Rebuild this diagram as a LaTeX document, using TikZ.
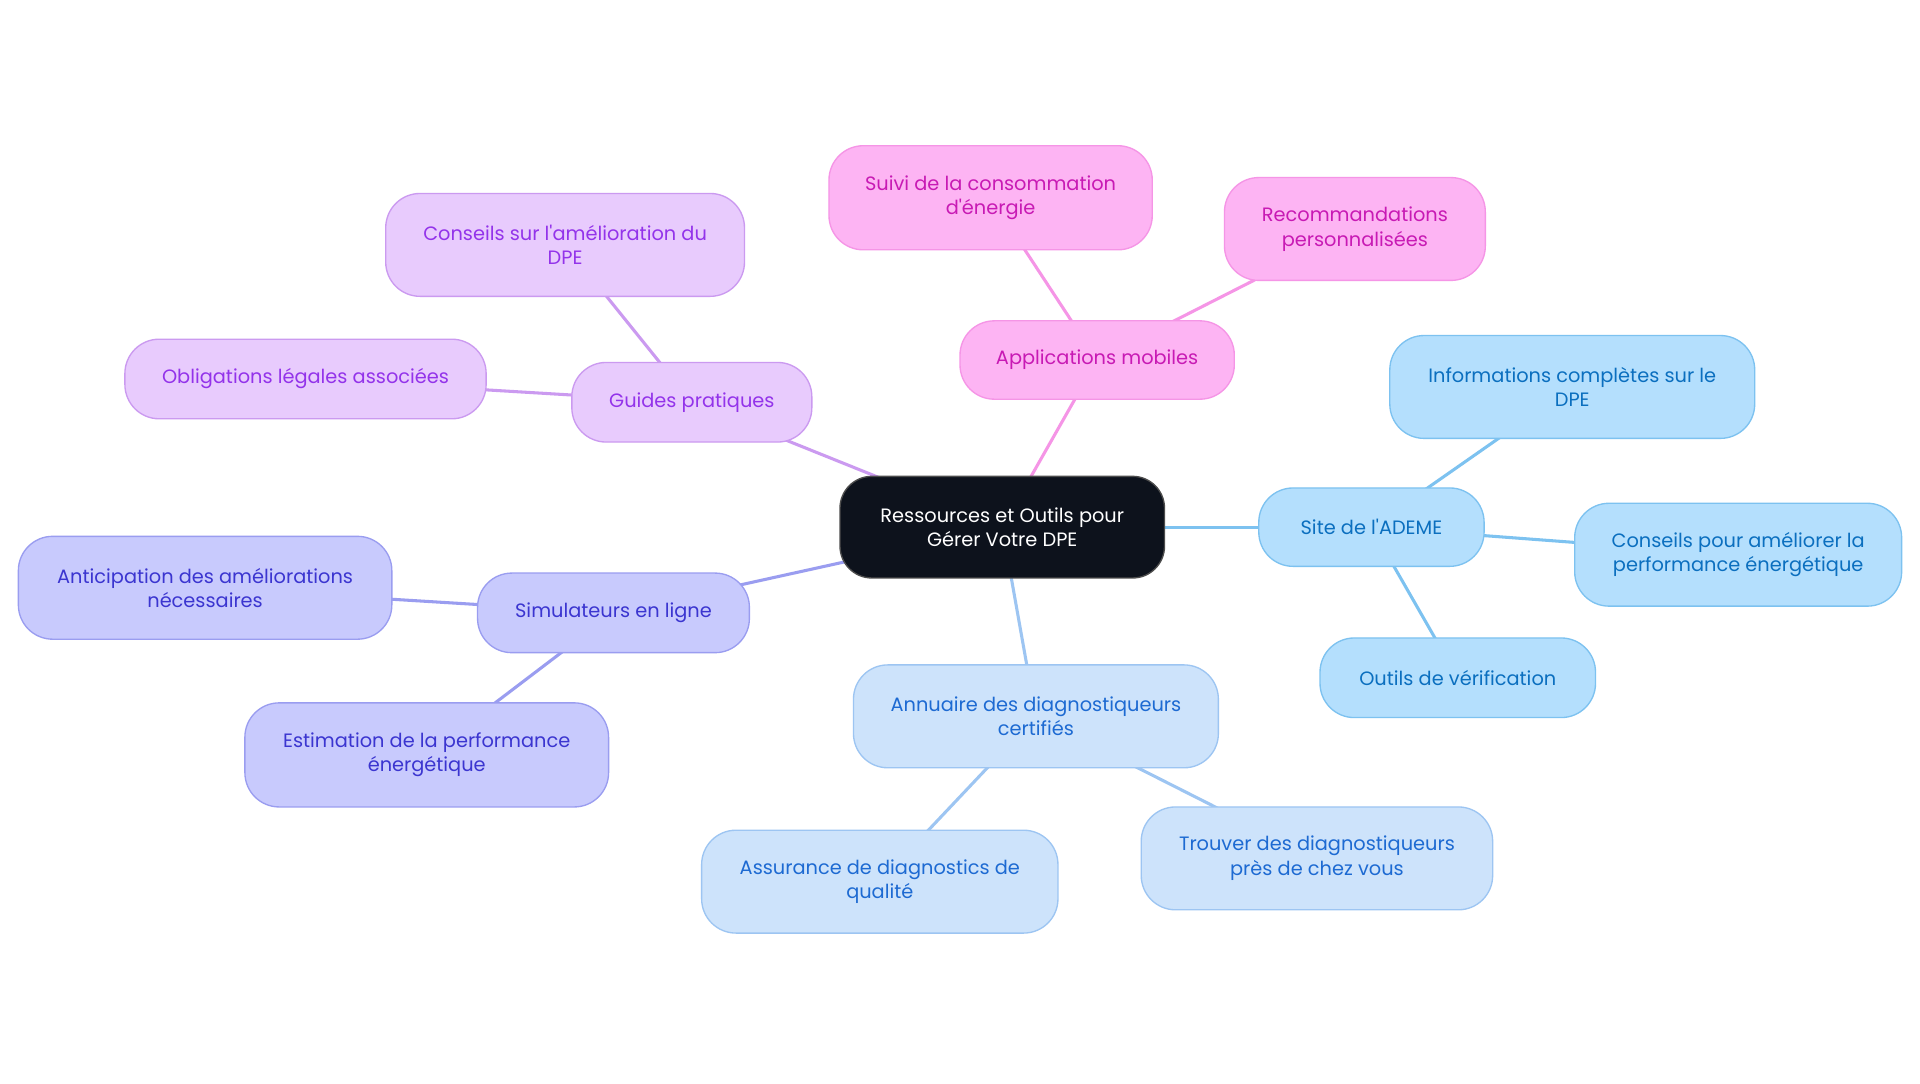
\documentclass[tikz,border=0pt]{standalone}
\usepackage{fontspec}
\setmainfont{Poppins}[Ligatures=TeXOff]
\usetikzlibrary{backgrounds}
\definecolor{pinkF}{HTML}{FDB4F3}\definecolor{pinkD}{HTML}{F595E6}\definecolor{pinkT}{HTML}{C81AB4}
\definecolor{purF}{HTML}{E8CBFD}\definecolor{purD}{HTML}{CB9AF0}\definecolor{purT}{HTML}{9333EA}
\definecolor{indF}{HTML}{C8CAFD}\definecolor{indD}{HTML}{9A9DF0}\definecolor{indT}{HTML}{3B35D0}
\definecolor{lbF}{HTML}{CDE3FB}\definecolor{lbD}{HTML}{9DC5F2}\definecolor{lbT}{HTML}{1D6AD2}
\definecolor{skyF}{HTML}{B4DFFD}\definecolor{skyD}{HTML}{7DC2F0}\definecolor{skyT}{HTML}{0B6FBF}
\definecolor{rootF}{HTML}{0D121C}
\tikzset{
  box/.style={draw, rounded corners=28pt, align=center, inner sep=0pt, line width=1.1pt,
    font=\fontsize{15.8}{20}\selectfont},
  sz/.style 2 args={minimum width=#1pt, minimum height=#2pt},
  pinkbox/.style={box, fill=pinkF, draw=pinkD, text=pinkT},
  purbox/.style={box, fill=purF, draw=purD, text=purT},
  indbox/.style={box, fill=indF, draw=indD, text=indT},
  lbbox/.style={box, fill=lbF, draw=lbD, text=lbT},
  skybox/.style={box, fill=skyF, draw=skyD, text=skyT},
  rootbox/.style={box, rounded corners=26pt, fill=rootF, draw=black!70, text=white},
  link/.style={line width=2.5pt}
}
\begin{document}
\begin{tikzpicture}[x=1pt,y=-1pt]
\useasboundingbox (0,0) rectangle (1568,884.5);
\node[rootbox, sz={265}{83}] (c) at (818.5,430.5) {Ressources et Outils pour\\Gérer Votre DPE};
\node[pinkbox, sz={224}{64}] (apps) at (896,294) {Applications mobiles};
\node[pinkbox, sz={264}{85}] (suivi) at (809,161.5) {Suivi de la consommation\\d'énergie};
\node[pinkbox, sz={213}{84}] (reco) at (1106.5,187) {Recommandations\\personnalisées};
\node[purbox, sz={196}{65}] (guides) at (565,328.5) {Guides pratiques};
\node[purbox, sz={293}{84}] (cdpe) at (461.5,200) {Conseils sur l'amélioration du\\DPE};
\node[purbox, sz={295}{65}] (oblig) at (249.5,309.5) {Obligations légales associées};
\node[indbox, sz={222}{65}] (simu) at (501,500.5) {Simulateurs en ligne};
\node[indbox, sz={305}{84}] (antic) at (167.5,480) {Anticipation des améliorations\\nécessaires};
\node[indbox, sz={297}{85}] (estim) at (348.5,616.5) {Estimation de la performance\\énergétique};
\node[lbbox, sz={298}{84}] (annu) at (846,585) {Annuaire des diagnostiqueurs\\certifiés};
\node[lbbox, sz={291}{84}] (assur) at (718.5,720) {Assurance de diagnostics de\\qualité};
\node[lbbox, sz={287}{84}] (trouv) at (1075.5,701) {Trouver des diagnostiqueurs\\près de chez vous};
\node[skybox, sz={184}{64}] (ademe) at (1120,430.5) {Site de l'ADEME};
\node[skybox, sz={298}{84}] (info) at (1284,316) {Informations complètes sur le\\DPE};
\node[skybox, sz={267}{84}] (cperf) at (1419.5,453) {Conseils pour améliorer la\\performance énergétique};
\node[skybox, sz={225}{65}] (outils) at (1190.5,553.5) {Outils de vérification};
\begin{pgfonlayer}{background}
\fill[white] (0,0) rectangle (1568,884.5);
\draw[link, pinkD] (c.center) -- (apps.center);
\draw[link, pinkD] (apps.center) -- (suivi.center);
\draw[link, pinkD] (apps.center) -- (reco.center);
\draw[link, purD] (c.center) -- (guides.center);
\draw[link, purD] (guides.center) -- (cdpe.center);
\draw[link, purD] (guides.center) -- (oblig.center);
\draw[link, indD] (c.center) -- (simu.center);
\draw[link, indD] (simu.center) -- (antic.center);
\draw[link, indD] (simu.center) -- (estim.center);
\draw[link, lbD] (c.center) -- (annu.center);
\draw[link, lbD] (annu.center) -- (assur.center);
\draw[link, lbD] (annu.center) -- (trouv.center);
\draw[link, skyD] (c.center) -- (ademe.center);
\draw[link, skyD] (ademe.center) -- (info.center);
\draw[link, skyD] (ademe.center) -- (cperf.center);
\draw[link, skyD] (ademe.center) -- (outils.center);
\end{pgfonlayer}
\end{tikzpicture}
\end{document}
